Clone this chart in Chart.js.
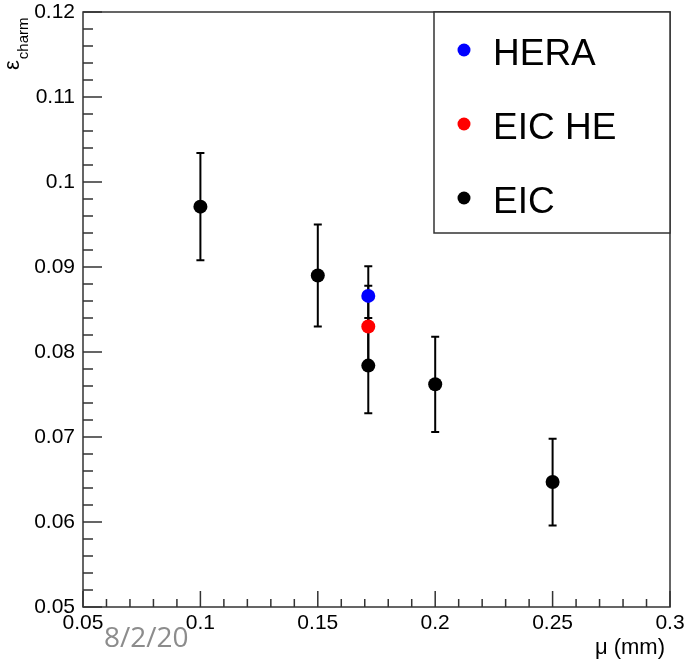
<!DOCTYPE html>
<html>
<head>
<meta charset="utf-8">
<title>Charm efficiency vs mu cut</title>
<script src="https://cdn.jsdelivr.net/npm/chart.js@4.4.0/dist/chart.umd.min.js"></script>
<style>
    html, body { margin: 0; padding: 0; background: #fff; }
    canvas { display: block; }
</style>
</head>
<body>
<canvas id="effChart" width="692" height="663"></canvas>
<script>
// ============================================
// Charm efficiency vs muon cut (mm)
// ============================================

const heraX = [0.1715];
const heraY = [0.0866];
const heraErr = [0.0035];

const eicHeX = [0.1715];
const eicHeY = [0.0830];
const eicHeErr = [0.0048];

const eicX = [0.1, 0.15, 0.1715, 0.2, 0.25];
const eicY = [0.0971, 0.0890, 0.0784, 0.0762, 0.0647];
const eicErr = [0.0063, 0.0060, 0.0056, 0.0056, 0.0051];

const xTicks = [0.05, 0.1, 0.15, 0.2, 0.25, 0.3];
const yTicks = [0.05, 0.06, 0.07, 0.08, 0.09, 0.1, 0.11, 0.12];

const xTitle = 'μ (mm)';
const yTitleMain = 'ε';
const yTitleSub = 'charm';
const dateLabel = '8/2/20';

const FONT = '"Liberation Sans", Arial, Helvetica, sans-serif';

function toPoints(xs, ys, errs) {
    return xs.map((x, i) => ({ x: x, y: ys[i], err: errs[i] }));
}

function fmt(v) {
    return String(parseFloat(v.toFixed(3)));
}

// error bars, frame, inner ticks, legend box and titles
const rootStyle = {
    id: 'rootStyle',
    beforeDatasetsDraw(chart) {
        const ctx = chart.ctx;
        const xs = chart.scales.x;
        const ys = chart.scales.y;
        ctx.save();
        ctx.strokeStyle = '#000';
        ctx.lineWidth = 2;
        chart.data.datasets.forEach(ds => {
            ds.data.forEach(p => {
                const px = xs.getPixelForValue(p.x);
                const top = ys.getPixelForValue(p.y + p.err);
                const bot = ys.getPixelForValue(p.y - p.err);
                ctx.beginPath();
                ctx.moveTo(px, top);
                ctx.lineTo(px, bot);
                ctx.moveTo(px - 4, top);
                ctx.lineTo(px + 4, top);
                ctx.moveTo(px - 4, bot);
                ctx.lineTo(px + 4, bot);
                ctx.stroke();
            });
        });
        ctx.restore();
    },
    afterDatasetsDraw(chart) {
        const ctx = chart.ctx;
        const a = chart.chartArea;
        const xs = chart.scales.x;
        const ys = chart.scales.y;
        ctx.save();
        ctx.strokeStyle = '#333';
        ctx.lineWidth = 1.5;
        ctx.strokeRect(a.left, a.top, a.right - a.left, a.bottom - a.top);

        // ticks on left and bottom edges, pointing inwards
        ctx.beginPath();
        xTicks.forEach((t, i) => {
            const px = xs.getPixelForValue(t);
            ctx.moveTo(px, a.bottom);
            ctx.lineTo(px, a.bottom - 16);
            if (i < xTicks.length - 1) {
                const step = (xTicks[i + 1] - t) / 5;
                for (let k = 1; k < 5; k++) {
                    const mx = xs.getPixelForValue(t + k * step);
                    ctx.moveTo(mx, a.bottom);
                    ctx.lineTo(mx, a.bottom - 8);
                }
            }
        });
        yTicks.forEach((t, i) => {
            const py = ys.getPixelForValue(t);
            ctx.moveTo(a.left, py);
            ctx.lineTo(a.left + 19, py);
            if (i < yTicks.length - 1) {
                const step = (yTicks[i + 1] - t) / 5;
                for (let k = 1; k < 5; k++) {
                    const my = ys.getPixelForValue(t + k * step);
                    ctx.moveTo(a.left, my);
                    ctx.lineTo(a.left + 10, my);
                }
            }
        });
        ctx.stroke();

        // legend box in the upper right corner
        const lx = a.left + 351;
        ctx.fillStyle = '#fff';
        ctx.fillRect(lx, a.top, a.right - lx, 221);
        ctx.strokeRect(lx, a.top, a.right - lx, 221);
        ctx.font = '37px ' + FONT;
        ctx.textAlign = 'left';
        ctx.textBaseline = 'alphabetic';
        chart.data.datasets.forEach((ds, i) => {
            const base = a.top + 53 + i * 74;
            ctx.fillStyle = ds.pointBackgroundColor;
            ctx.beginPath();
            ctx.arc(lx + 30, base - 15, 6.5, 0, Math.PI * 2);
            ctx.fill();
            ctx.fillStyle = '#000';
            ctx.fillText(ds.label, lx + 59, base);
        });
        ctx.restore();
    },
    afterDraw(chart) {
        const ctx = chart.ctx;
        const a = chart.chartArea;
        ctx.save();
        ctx.fillStyle = '#000';

        // x title, right aligned under the axis
        ctx.font = '22px ' + FONT;
        ctx.textAlign = 'right';
        ctx.textBaseline = 'alphabetic';
        ctx.fillText(xTitle, a.right - 5, 654);

        // y title, rotated, with subscript
        ctx.translate(19, 70);
        ctx.rotate(-Math.PI / 2);
        ctx.textAlign = 'left';
        ctx.font = '22px ' + FONT;
        ctx.fillText(yTitleMain, 0, 0);
        const w = ctx.measureText(yTitleMain).width;
        ctx.font = '15px ' + FONT;
        ctx.fillText(yTitleSub, w + 1, 9);
        ctx.restore();

        // slide footer date
        ctx.save();
        ctx.fillStyle = '#8c8c8c';
        ctx.font = '28px "Open Sans", sans-serif';
        ctx.textAlign = 'left';
        ctx.textBaseline = 'alphabetic';
        ctx.fillText(dateLabel, 104, 647);
        ctx.restore();
    }
};

document.addEventListener('DOMContentLoaded', () => {
    const ctx = document.getElementById('effChart').getContext('2d');

    new Chart(ctx, {
        type: 'scatter',
        data: {
            datasets: [
                {
                    label: 'HERA',
                    data: toPoints(heraX, heraY, heraErr),
                    pointBackgroundColor: '#0000ff',
                    pointBorderWidth: 0,
                    pointRadius: 7
                },
                {
                    label: 'EIC HE',
                    data: toPoints(eicHeX, eicHeY, eicHeErr),
                    pointBackgroundColor: '#ff0000',
                    pointBorderWidth: 0,
                    pointRadius: 7
                },
                {
                    label: 'EIC',
                    data: toPoints(eicX, eicY, eicErr),
                    pointBackgroundColor: '#000000',
                    pointBorderWidth: 0,
                    pointRadius: 7
                }
            ]
        },
        options: {
            responsive: false,
            animation: false,
            devicePixelRatio: 1,
            layout: { padding: { top: 0, right: 22, left: 0, bottom: 0 } },
            plugins: {
                legend: { display: false },
                tooltip: { enabled: false }
            },
            scales: {
                x: {
                    type: 'linear',
                    min: xTicks[0],
                    max: xTicks[xTicks.length - 1],
                    grid: { display: false, drawTicks: false },
                    border: { display: false },
                    afterBuildTicks: scale => { scale.ticks = xTicks.map(v => ({ value: v })); },
                    afterFit: scale => { scale.height = 56; },
                    ticks: {
                        padding: 4,
                        color: '#000',
                        font: { family: FONT, size: 21 },
                        maxRotation: 0,
                        autoSkip: false,
                        callback: v => fmt(v)
                    }
                },
                y: {
                    type: 'linear',
                    min: yTicks[0],
                    max: yTicks[yTicks.length - 1],
                    grid: { display: false, drawTicks: false },
                    border: { display: false },
                    afterBuildTicks: scale => { scale.ticks = yTicks.map(v => ({ value: v })); },
                    afterFit: scale => { scale.width = 83; scale.paddingTop = 12; },
                    ticks: {
                        padding: 8,
                        color: '#000',
                        font: { family: FONT, size: 21 },
                        autoSkip: false,
                        callback: v => fmt(v)
                    }
                }
            }
        },
        plugins: [rootStyle]
    });
});
</script>
</body>
</html>
